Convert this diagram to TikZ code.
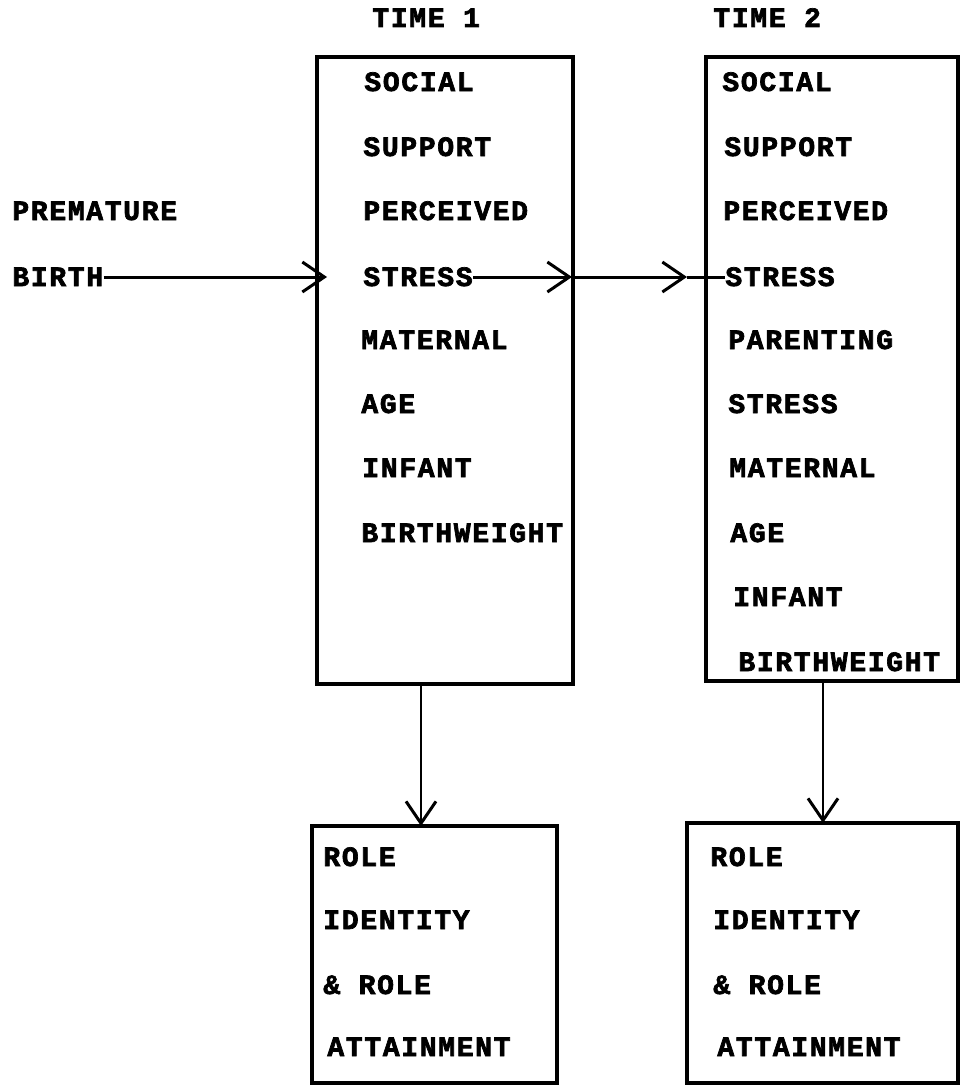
\documentclass[tikz,border=0pt]{standalone}
\usepackage{fontspec}
\setmonofont{Liberation Mono}[LetterSpace=6.0, BoldFeatures={FakeBold=2.5}]
\usetikzlibrary{arrows.meta,positioning}

\begin{document}
\begin{tikzpicture}[
    x=0.5pt, y=-0.5pt,
    box/.style={draw, line width=1.7pt, inner sep=0pt},
    word/.style={anchor=west, inner sep=0pt, text height=9pt, text depth=0pt,
        font=\ttfamily\bfseries\fontsize{14}{16}\selectfont},
    arr/.style={line width=1.5pt, -{Straight Barb[length=11pt, width=15pt, line width=1.5pt]}}
]
\useasboundingbox (0,0) rectangle (961,1086);

% Boxes
\node[box, minimum width=128pt, minimum height=313.5pt] (t1) at (445,370.5) {};
\node[box, minimum width=126pt, minimum height=312pt] (t2) at (832,369) {};
\node[box, minimum width=122.5pt, minimum height=128.5pt] (r1) at (434.5,954.5) {};
\node[box, minimum width=135.5pt, minimum height=130pt] (r2) at (822.5,953) {};

% Headings
\node[word] (time1) at (372,18) {TIME 1};
\node[word] (time2) at (713,18) {TIME 2};
\node[word] (premature) at (12,211) {PREMATURE};
\node[word] (birth) at (12,277) {BIRTH};

% Time 1
\node[word] (a1) at (364,82) {SOCIAL};
\node[word] (a2) at (363,147) {SUPPORT};
\node[word] (a3) at (363,211) {PERCEIVED};
\node[word] (a4) at (363,277) {STRESS};
\node[word] (a5) at (361,340) {MATERNAL};
\node[word] (a6) at (361,404) {AGE};
\node[word] (a7) at (362,468) {INFANT};
\node[word] (a8) at (361,533) {BIRTHWEIGHT};

% Time 2
\node[word] (c1) at (722,82) {SOCIAL};
\node[word] (c2) at (724,147) {SUPPORT};
\node[word] (c3) at (723,211) {PERCEIVED};
\node[word] (c4) at (725,277) {STRESS};
\node[word] (c5) at (728,340) {PARENTING};
\node[word] (c6) at (728,404) {STRESS};
\node[word] (c7) at (729,468) {MATERNAL};
\node[word] (c8) at (730,533) {AGE};
\node[word] (c9) at (733,597) {INFANT};
\node[word] (c10) at (738,662) {BIRTHWEIGHT};

% Outcomes
\node[word] (p1) at (323,857) {ROLE};
\node[word] (p2) at (323,920) {IDENTITY};
\node[word] (p3) at (323,985) {\& ROLE};
\node[word] (p4) at (327,1047) {ATTAINMENT};
\node[word] (q1) at (710,857) {ROLE};
\node[word] (q2) at (713,920) {IDENTITY};
\node[word] (q3) at (713,985) {\& ROLE};
\node[word] (q4) at (717,1047) {ATTAINMENT};

% Arrows
\coordinate (h1) at (327,277);
\coordinate (h2) at (572,277);
\coordinate (h3) at (687,277);
\coordinate (d1) at (421,826);
\coordinate (d2) at (823,823);
\draw[arr] (birth.east) -- (h1);
\draw[arr] (a4.east) -- (h2);
\draw[arr] (h2) -- (h3);
\draw[line width=1.5pt] (h3) -- (c4.west);
\draw[arr, line width=1.1pt] (d1 |- t1.south) -- (d1);
\draw[arr, line width=1.1pt] (d2 |- t2.south) -- (d2);

\end{tikzpicture}
\end{document}
